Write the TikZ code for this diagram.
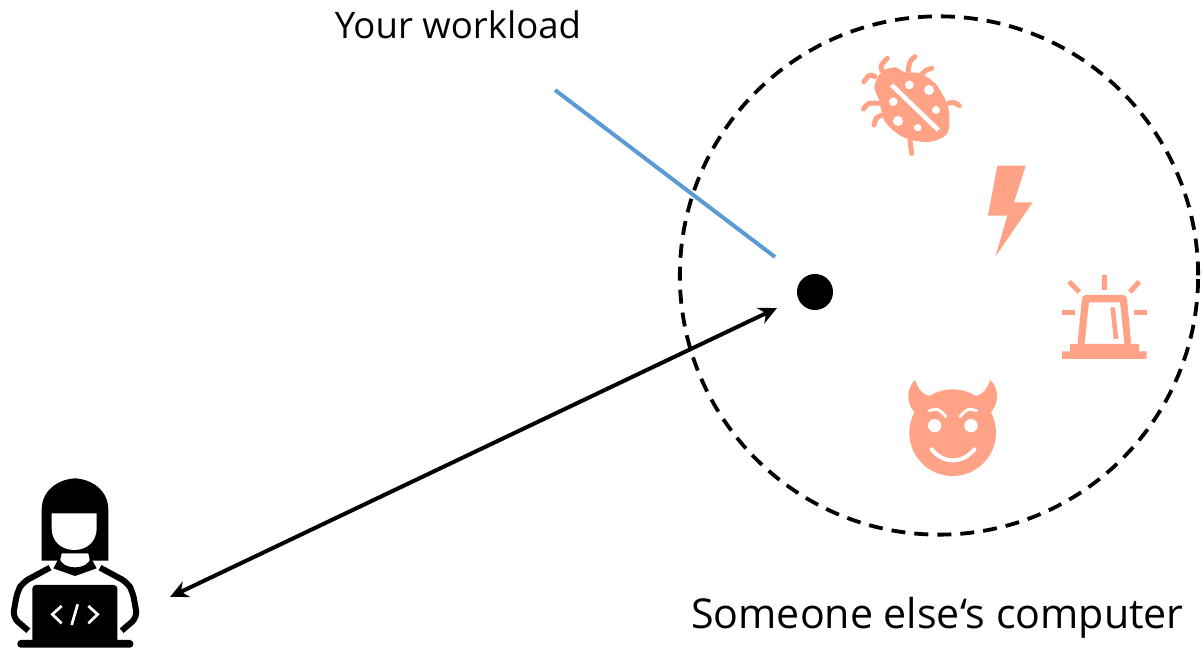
\documentclass[tikz,border=0pt]{standalone}
\usepackage{xcolor}
\usepackage{fontspec}
\setmainfont{Open Sans}
\usetikzlibrary{arrows.meta,positioning}
\definecolor{threat}{HTML}{FFA286}
\definecolor{workload}{HTML}{5B9BD5}
\tikzset{
  caption/.style={inner sep=0pt},
  hostbox/.style={draw, circle, dashed, line width=0.038cm, dash pattern=on 0.14cm off 0.09cm, minimum size=5.18cm, inner sep=0pt},
  procdot/.style={circle, fill=black, minimum size=0.36cm, inner sep=0pt},
  msg/.style={{Stealth[length=0.18cm,width=0.17cm]}-{Stealth[length=0.18cm,width=0.17cm]}, line width=0.04cm},
  bugleg/.style={threat, line width=0.05cm, line cap=round},
  whiteline/.style={white, line cap=round},
  codeline/.style={white, line width=0.027cm},
  band/.style={black, line width=0.06cm, line join=round, rounded corners=2pt}
}
\begin{document}
\begin{tikzpicture}[x=0.01cm,y=-0.01cm]
\useasboundingbox (0,0) rectangle (1202,649);
\node[hostbox] (computer) at (939,275.5) {};
\node[procdot] (process) at (815,292) {};
\node[caption, font=\fontsize{10.4}{12}\selectfont] (workloadlabel) at (458,25) {Your workload};
\node[caption, font=\fontsize{11.7}{14}\selectfont] (computerlabel) at (937.5,618) {Someone else‘s computer};
\coordinate (workloadstart) at (555,90);
\coordinate (workloadend) at (775,257);
\coordinate (userend) at (170,597);
\coordinate (processend) at (777,308);
\draw[workload, line width=0.04cm] (workloadstart) -- (workloadend);
\draw[msg] (userend) -- (processend);
% bug
\begin{scope}[shift={(840,40)},x=0.01cm/3,y=-0.01cm/3]
\draw[bugleg] (125,90) .. controls (122,75) .. (142,55);
\draw[bugleg] (205,92) .. controls (208,65) .. (225,50);
\draw[bugleg] (245,103) .. controls (258,90) .. (275,85);
\draw[bugleg] (105,110) .. controls (88,102) .. (72,125);
\draw[bugleg] (115,190) .. controls (85,188) .. (70,207);
\draw[bugleg] (128,225) .. controls (108,232) .. (102,255);
\draw[bugleg] (210,300) .. controls (212,320) .. (215,340);
\draw[bugleg] (325,190) .. controls (342,186) .. (358,197);
\fill[threat] plot[smooth cycle] coordinates {(103,140) (125,95) (165,82) (195,97) (240,100) (290,135) (325,205) (322,280) (265,306) (190,292) (135,245) (117,180)};
\draw[white, line width=0.045cm] (155,135) -- (295,270);
\fill[white] (208,135) circle[radius=13] (267,150) circle[radius=15] (288,210) circle[radius=12] (233,263) circle[radius=11] (174,243) circle[radius=15] (160,185) circle[radius=13];
\end{scope}
% bolt
\begin{scope}[shift={(740,150)},x=0.01cm/3,y=-0.01cm/3]
\fill[threat] (772,47) -- (857,47) -- (822,157) -- (878,157) -- (766,320) -- (802,197) -- (744,197) -- cycle;
\end{scope}
% alarm and devil
\begin{scope}[shift={(890,260)},x=0.01cm/3,y=-0.01cm/3]
\draw[threat, line width=0.05cm] (643,45) -- (643,90) (537,65) -- (568,96) (748,65) -- (720,96) (516,157) -- (555,157) (732,157) -- (771,157);
\fill[threat, rounded corners=1pt] (562,256) -- (577,105) -- (710,105) -- (724,256) -- cycle;
\fill[white] (584,252) -- (597,127) -- (690,127) -- (703,252) -- cycle;
\fill[threat] (661,142) -- (675,142) -- (685,237) -- (671,237) -- cycle;
\fill[threat] (540,252) rectangle (747,274) (516,274) rectangle (770,297);
\fill[threat] (188,518) circle[radius=130];
\fill[threat] (75,360) .. controls (85,385) and (95,405) .. (122,408) -- (78,462) .. controls (45,430) and (50,385) .. (75,360) -- cycle;
\fill[threat] (301,360) .. controls (291,385) and (281,405) .. (254,408) -- (298,462) .. controls (331,430) and (326,385) .. (301,360) -- cycle;
\fill[white] (134,497) circle[radius=20] (243,497) circle[radius=20];
\draw[whiteline, line width=0.028cm] (118,452) .. controls (145,445) .. (168,470);
\draw[whiteline, line width=0.028cm] (260,452) .. controls (233,445) .. (210,470);
\draw[whiteline, line width=0.04cm] (125,568) .. controls (160,612) and (218,612) .. (253,568);
\end{scope}
% user
\begin{scope}[shift={(0,470)},x=0.01cm/3,y=-0.01cm/3]
\fill[black] (125,272) -- (125,120) .. controls (125,60) and (175,28) .. (225,25) .. controls (275,28) and (325,60) .. (325,120) -- (325,272) -- (270,272) -- (265,250) -- (185,250) -- (180,272) -- cycle;
\fill[white] (155,130) -- (290,130) -- (290,175) .. controls (290,215) and (260,240) .. (223,240) .. controls (185,240) and (155,215) .. (155,175) -- cycle;
\fill[black] (178,262) .. controls (180,280) and (200,292) .. (225,292) .. controls (250,292) and (270,280) .. (272,262) -- (290,295) -- (225,318) -- (160,295) -- cycle;
\fill[white] (190,262) .. controls (195,288) and (255,288) .. (260,262) -- cycle;
\draw[band] (150,293) -- (68,337) -- (52,365) -- (38,442) -- (85,482);
\draw[band] (300,293) -- (382,337) -- (398,365) -- (412,442) -- (365,482);
\fill[black, rounded corners=1pt] (97,345) rectangle (352,520);
\fill[black, rounded corners=1pt] (52,510) rectangle (400,533);
\draw[codeline] (185,408) -- (157,433) -- (185,460);
\draw[codeline] (265,408) -- (293,433) -- (265,460);
\draw[codeline] (233,403) -- (215,465);
\end{scope}
\end{tikzpicture}
\end{document}
